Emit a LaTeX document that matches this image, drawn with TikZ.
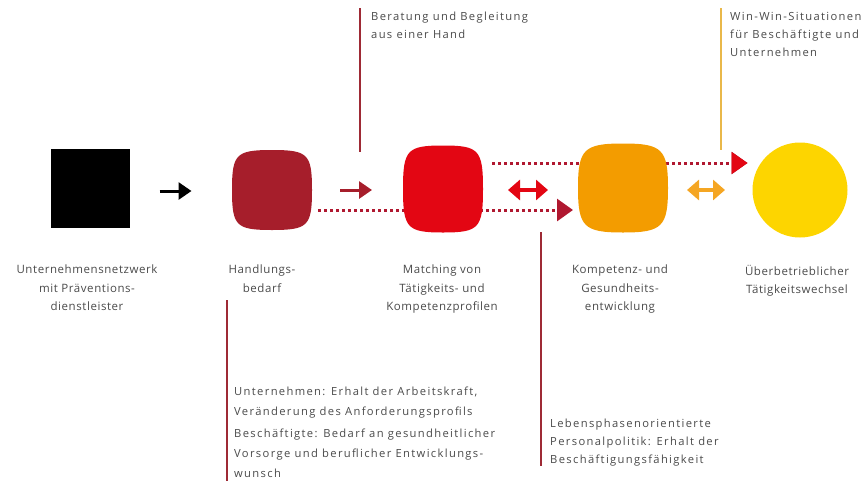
\documentclass[tikz,border=0pt]{standalone}
\usepackage{fontspec}
\setmainfont{Open Sans}
\newfontfamily\lblfont[LetterSpace=5]{Open Sans}
\newfontfamily\notefont[LetterSpace=12]{Open Sans}
\usetikzlibrary{arrows.meta,calc}
\definecolor{dred}{HTML}{A61E2B}
\definecolor{bred}{HTML}{E30613}
\definecolor{orng}{HTML}{F39C00}
\definecolor{lorng}{HTML}{F5A623}
\definecolor{yell}{HTML}{FDD500}
\definecolor{dots}{HTML}{B01830}
\definecolor{txt}{HTML}{4A4A4A}
\definecolor{vline}{HTML}{9E2A35}
\definecolor{yline}{HTML}{E9B84A}
\newcommand\squirclefill[3]{%
  \fill[#2] (#1.north) .. controls ($(#1.north)!#3!(#1.north east)$) and ($(#1.east)!#3!(#1.north east)$) .. (#1.east)
   .. controls ($(#1.east)!#3!(#1.south east)$) and ($(#1.south)!#3!(#1.south east)$) .. (#1.south)
   .. controls ($(#1.south)!#3!(#1.south west)$) and ($(#1.west)!#3!(#1.south west)$) .. (#1.west)
   .. controls ($(#1.west)!#3!(#1.north west)$) and ($(#1.north)!#3!(#1.north west)$) .. (#1.north) -- cycle;}
\begin{document}
\begin{tikzpicture}[x=1pt,y=-1pt,
  shapebox/.style={inner sep=0pt,outer sep=0pt,draw=none},
  lbl/.style={font=\lblfont\fontsize{11.5}{18.5}\selectfont,text=txt,inner sep=0pt,align=center,anchor=north},
  note/.style={font=\notefont\fontsize{11.2}{17.8}\selectfont,text=txt,inner sep=0pt,align=left,anchor=north west},
  solidarrow/.style={line width=3pt,-{Triangle[length=13pt,width=17pt]}},
  dblarrow/.style={line width=3.5pt,{Triangle[length=12pt,width=20pt]}-{Triangle[length=12pt,width=20pt]}},
  dottedarrow/.style={line width=3pt,dash pattern=on 3pt off 3pt,-{Triangle[length=16pt,width=22pt]}},
  annot/.style={line width=1.3pt}
]
\path[use as bounding box] (0,0) rectangle (868,485);

% shape nodes
\node[shapebox,fill=black,minimum width=79pt,minimum height=79pt] (net) at (90,188) {};
\node[shapebox,minimum width=80pt,minimum height=80pt] (hb) at (272,190) {};
\node[shapebox,minimum width=80pt,minimum height=87pt] (ma) at (443,189) {};
\node[shapebox,minimum width=90pt,minimum height=89pt] (ko) at (623,188) {};
\node[shapebox,circle,fill=yell,minimum size=95pt] (ub) at (800,190) {};

% dotted connectors (behind shapes)
\draw[dottedarrow,dots] ($(hb.east)+(6,20)$) -- ($(ko.west)+(-5,22)$);
\draw[dottedarrow,dots] ($(ma.east)+(9,-26)$) -- ($(ub.west)+(-5,-27)$);
\fill[bred] ($(ub.west)+(-5,-27)$) -- ++(-16,-11) -- ++(0,22) -- cycle;

\squirclefill{hb}{dred}{0.9}
\squirclefill{ma}{bred}{0.9}
\squirclefill{ko}{orng}{0.87}

% arrows between shapes
\draw[solidarrow,black] ($(net.east)+(30,3)$) -- ($(net.east)+(62,3)$);
\draw[solidarrow,dred] ($(hb.east)+(28,0)$) -- ($(hb.east)+(60,0)$);
\draw[dblarrow,bred] ($(ma.east)+(25,1)$) -- ($(ma.east)+(65,1)$);
\draw[dblarrow,lorng] ($(ko.east)+(19,2)$) -- ($(ko.east)+(57,2)$);

% labels
\node[lbl] (l1) at (87,265) {Unternehmensnetzwerk\\mit Präventions-\\dienstleister};
\node[lbl] (l2) at (262,265) {Handlungs-\\bedarf};
\node[lbl] (l3) at (442,265) {Matching von\\Tätigkeits- und\\Kompetenzprofilen};
\node[lbl] (l4) at (620,265) {Kompetenz- und\\Gesundheits-\\entwicklung};
\node[lbl] (l5) at (797,265) {Überbetrieblicher\\Tätigkeitswechsel};

% annotations
\node[note] (t1) at (371,12) {Beratung und Begleitung\\aus einer Hand};
\node[note] (t2) at (730,12) {Win-Win-Situationen\\für Beschäftigte und\\Unternehmen};
\node[note,font=\notefont\fontsize{11.2}{20}\selectfont] (b1) at (234,387) {Unternehmen: Erhalt der Arbeitskraft,\\Veränderung des Anforderungsprofils\\[1.5pt]Beschäftigte: Bedarf an gesundheitlicher\\Vorsorge und beruflicher Entwicklungs-\\wunsch};
\node[note] (b2) at (550,419) {Lebensphasenorientierte\\Personalpolitik: Erhalt der\\Beschäftigungsfähigkeit};

\coordinate (v1a) at (360,8);  \coordinate (v1b) at (360,152);
\coordinate (v2a) at (721,8);  \coordinate (v2b) at (721,150);
\coordinate (v3a) at (227,300); \coordinate (v3b) at (227,481);
\coordinate (v4a) at (541,232); \coordinate (v4b) at (541,466);
\draw[annot,vline] (v1a) -- (v1b);
\draw[annot,yline] (v2a) -- (v2b);
\draw[annot,vline] (v3a) -- (v3b);
\draw[annot,vline] (v4a) -- (v4b);
\end{tikzpicture}
\end{document}
